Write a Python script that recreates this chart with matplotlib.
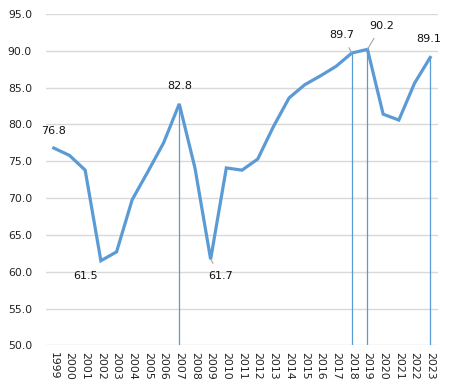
import matplotlib
matplotlib.use("Agg")
import matplotlib.pyplot as plt

years = [str(y) for y in range(1999, 2024)]
values = [76.8, 75.8, 73.8, 61.5, 62.7, 69.8, 73.6, 77.5, 82.8, 74.1, 61.7,
          74.1, 73.8, 75.3, 79.7, 83.6, 85.4, 86.6, 87.9, 89.7, 90.2,
          81.4, 80.6, 85.6, 89.1]
drop_years = ["2007", "2018", "2019", "2023"]
labelled = ["1999", "2002", "2007", "2009", "2018", "2019", "2023"]
yticks = [50, 55, 60, 65, 70, 75, 80, 85, 90, 95]

fig = plt.figure(figsize=(4.69, 3.89), dpi=100)
ax = fig.add_axes([0.098, 0.112, 0.836, 0.852])
x = list(range(len(years)))
ax.set_xlim(-0.5, len(years) - 0.5)
ax.set_ylim(50, 95)
ax.set_yticks(yticks)
ax.set_yticklabels([f"{v:.1f}" for v in yticks])
ax.set_xticks(x)
ax.set_xticklabels(years, rotation=270, fontsize=7.8)
ax.grid(axis="y", color="#D9D9D9", lw=1)
ax.set_axisbelow(True)
for s in ax.spines.values():
    s.set_visible(False)
ax.tick_params(length=0, labelsize=7.8, colors="#222222")
ax.tick_params(axis="y", pad=10)
ax.tick_params(axis="x", pad=5)

for yr in drop_years:
    i = years.index(yr)
    ax.vlines(i, 50, values[i], color="#5B9BD5", lw=0.9, zorder=2)

ax.plot(x, values, color="#5B9BD5", lw=2.3, zorder=3, solid_joinstyle="miter")

offsets = {"1999": (0, 12), "2002": (-11, -11), "2007": (0, 13), "2009": (7, -12),
           "2018": (-7, 13), "2019": (10, 17), "2023": (-1, 13)}
leaders = {"2009", "2018", "2019"}
for yr in labelled:
    i = years.index(yr)
    dx, dy = offsets[yr]
    arrow = dict(arrowstyle="-", color="#A6A6A6", lw=0.8, shrinkA=4, shrinkB=0) if yr in leaders else None
    ax.annotate(f"{values[i]:.1f}", (i, values[i]), xytext=(dx, dy),
                textcoords="offset points", ha="center", va="center",
                fontsize=8, color="#111111", arrowprops=arrow, zorder=4)

fig.savefig("out.png", dpi=100)
